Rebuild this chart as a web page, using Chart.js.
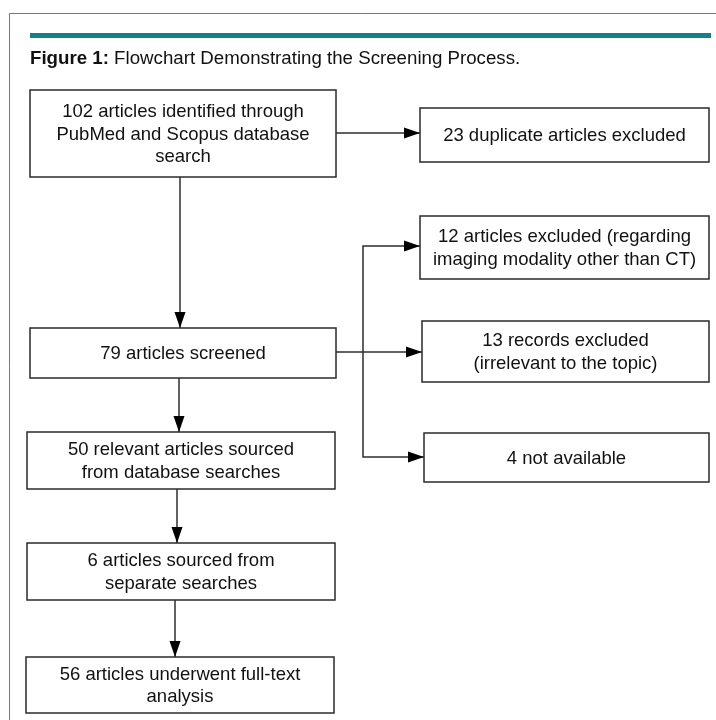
<!DOCTYPE html>
<html>
<head>
<meta charset="utf-8">
<script src="https://cdn.jsdelivr.net/npm/chart.js@4/dist/chart.umd.min.js"></script>
<style>
  html, body { margin: 0; padding: 0; background: #fff; }
  #wrap { width: 716px; height: 720px; position: relative; }
</style>
</head>
<body>
<div id="wrap"><canvas id="chart"></canvas></div>
<script>
// flowchart content
const titleBold = "Figure 1:"
const titleText = "Flowchart Demonstrating the Screening Process."

const nodeCounts = [102, 23, 12, 79, 13, 4, 50, 6, 56]
const nodeLines = [
  ["102 articles identified through", "PubMed and Scopus database", "search"],
  ["23 duplicate articles excluded"],
  ["12 articles excluded (regarding", "imaging modality other than CT)"],
  ["79 articles screened"],
  ["13 records excluded", "(irrelevant to the topic)"],
  ["4 not available"],
  ["50 relevant articles sourced", "from database searches"],
  ["6 articles sourced from", "separate searches"],
  ["56 articles underwent full-text", "analysis"]
]

// box corners in chart units: [x1, y1, x2, y2]
const nodeBoxes = [
  [30, 90, 336, 177],
  [420, 108, 709, 162],
  [420, 216, 709, 279],
  [30, 328, 336, 378],
  [422, 321, 709, 382],
  [424, 433, 709, 482],
  [27, 432, 335, 489],
  [27, 543, 335, 600],
  [26, 657, 334, 713]
]

// connectors: list of points, last segment gets an arrow head
const links = [
  [[336, 133], [420, 133]],
  [[180, 177], [180, 328]],
  [[336, 352], [422, 352]],
  [[363, 352], [363, 246], [420, 246]],
  [[363, 352], [363, 457], [424, 457]],
  [[179, 378], [179, 432]],
  [[177, 489], [177, 543]],
  [[175, 600], [175, 657]]
]

const FONT = '"Liberation Sans", Arial, sans-serif'

const flowPlugin = {
  id: 'flow',
  beforeDraw(chart) {
    const { ctx, scales: { x, y } } = chart
    const px = v => x.getPixelForValue(v)
    const py = v => y.getPixelForValue(v)
    ctx.save()
    ctx.fillStyle = '#fff'
    ctx.fillRect(0, 0, chart.width, chart.height)

    // outer frame
    ctx.strokeStyle = '#777'
    ctx.lineWidth = 1
    ctx.beginPath()
    ctx.moveTo(px(9) + 0.5, py(720))
    ctx.lineTo(px(9) + 0.5, py(13) + 0.5)
    ctx.lineTo(px(716), py(13) + 0.5)
    ctx.stroke()

    // teal rule
    ctx.fillStyle = '#13808a'
    ctx.fillRect(px(30), py(33), px(711) - px(30), py(38) - py(33))

    // title
    ctx.fillStyle = '#111'
    ctx.textBaseline = 'middle'
    ctx.textAlign = 'left'
    ctx.font = 'bold 18.7px ' + FONT
    ctx.fillText(titleBold, px(30), py(59))
    const bw = ctx.measureText(titleBold + ' ').width
    ctx.font = '18.7px ' + FONT
    ctx.fillText(titleText, px(30) + bw, py(59))

    // connectors
    ctx.strokeStyle = '#2e2e2e'
    ctx.fillStyle = '#000'
    ctx.lineWidth = 1.5
    links.forEach(pts => {
      ctx.beginPath()
      pts.forEach((p, i) => {
        const X = px(p[0]), Y = py(p[1])
        if (i === 0) ctx.moveTo(X, Y); else ctx.lineTo(X, Y)
      })
      ctx.stroke()
      const a = pts[pts.length - 2], b = pts[pts.length - 1]
      const ax = px(a[0]), ay = py(a[1]), bx = px(b[0]), by = py(b[1])
      const ang = Math.atan2(by - ay, bx - ax)
      const len = 16, half = 5.5
      ctx.save()
      ctx.translate(bx, by)
      ctx.rotate(ang)
      ctx.beginPath()
      ctx.moveTo(0, 0)
      ctx.lineTo(-len, -half)
      ctx.lineTo(-len, half)
      ctx.closePath()
      ctx.fill()
      ctx.restore()
    })

    // boxes and their text
    nodeBoxes.forEach((b, i) => {
      const x1 = px(b[0]), y1 = py(b[1]), x2 = px(b[2]), y2 = py(b[3])
      ctx.fillStyle = '#fff'
      ctx.fillRect(x1, y1, x2 - x1, y2 - y1)
      ctx.strokeStyle = '#2a2a2a'
      ctx.lineWidth = 1.5
      ctx.strokeRect(x1, y1, x2 - x1, y2 - y1)
      const lines = nodeLines[i]
      const cx = (x1 + x2) / 2, cy = (y1 + y2) / 2
      const lh = 22.5
      ctx.fillStyle = '#111'
      ctx.font = '18.5px ' + FONT
      ctx.textAlign = 'center'
      lines.forEach((t, k) => {
        ctx.fillText(t, cx, cy + (k - (lines.length - 1) / 2) * lh + 1)
      })
    })
    ctx.restore()
  }
}

new Chart(document.getElementById('chart'), {
  type: 'scatter',
  data: {
    datasets: [{
      label: 'nodes',
      data: nodeBoxes.map((b, i) => ({ x: (b[0] + b[2]) / 2, y: (b[1] + b[3]) / 2, n: nodeCounts[i] })),
      pointRadius: 0
    }]
  },
  options: {
    responsive: true,
    maintainAspectRatio: false,
    animation: false,
    layout: { padding: 0 },
    plugins: {
      legend: { display: false },
      tooltip: { enabled: false }
    },
    scales: {
      x: { type: 'linear', min: 0, max: 716, display: false },
      y: { type: 'linear', min: 0, max: 720, reverse: true, display: false }
    }
  },
  plugins: [flowPlugin]
})
</script>
</body>
</html>
